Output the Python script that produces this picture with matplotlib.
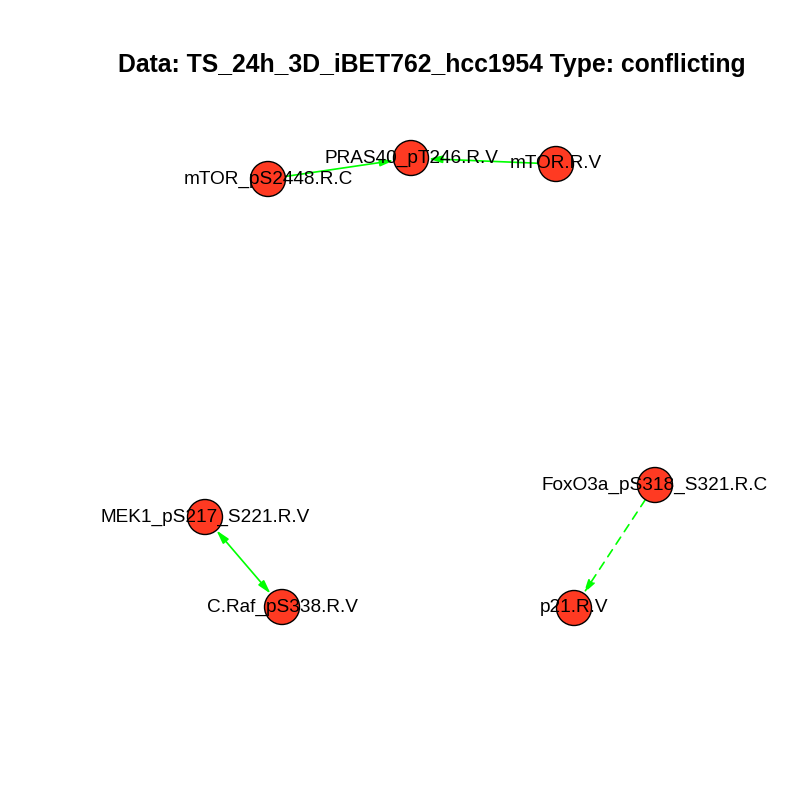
import matplotlib
matplotlib.use('Agg')
import matplotlib.pyplot as plt
from matplotlib.patches import Circle, FancyArrowPatch

# node layout (pixel coords)
nodes = ['mTOR_pS2448.R.C', 'PRAS40_pT246.R.V', 'mTOR.R.V',
         'MEK1_pS217_S221.R.V', 'C.Raf_pS338.R.V',
         'FoxO3a_pS318_S321.R.C', 'p21.R.V']
node_x = [268, 411, 556, 205, 282, 655, 574]
node_y = [179, 158, 164, 517, 607, 485, 608]

# edges: source, target, style, both directions
edge_src = ['mTOR_pS2448.R.C', 'mTOR.R.V', 'MEK1_pS217_S221.R.V', 'FoxO3a_pS318_S321.R.C']
edge_dst = ['PRAS40_pT246.R.V', 'PRAS40_pT246.R.V', 'C.Raf_pS338.R.V', 'p21.R.V']
edge_ls = ['solid', 'solid', 'solid', 'dashed']
edge_both = [False, False, True, False]

title = 'Data: TS_24h_3D_iBET762_hcc1954 Type: conflicting'

R = 17.5
plt.rcParams['font.family'] = ['Liberation Sans', 'DejaVu Sans']

fig = plt.figure(figsize=(8, 8), dpi=100)
ax = fig.add_axes([0, 0, 1, 1])
ax.set_xlim(0, 800)
ax.set_ylim(800, 0)
ax.set_aspect('equal')
ax.axis('off')

pos = {n: (x, y) for n, x, y in zip(nodes, node_x, node_y)}
shrink = R * 0.72

for s, d, ls, both in zip(edge_src, edge_dst, edge_ls, edge_both):
    style = '<|-|>' if both else '-|>'
    arr = FancyArrowPatch(pos[s], pos[d], arrowstyle=style + ',head_length=8,head_width=2.2',
                          color='#00FF00', lw=1.2, linestyle=(0, (5, 4)) if ls == 'dashed' else ls,
                          shrinkA=shrink, shrinkB=shrink, mutation_scale=1, zorder=1)
    ax.add_patch(arr)

for n in nodes:
    ax.add_patch(Circle(pos[n], R, facecolor='#FF3A22', edgecolor='black', lw=1, zorder=2))
    ax.text(pos[n][0], pos[n][1], n, ha='center', va='center', fontsize=13.7, zorder=3)

fig.text(0.54, 1 - 65 / 800, title, ha='center', va='center', fontsize=17.8, fontweight='bold')

fig.savefig('out.png', dpi=100, facecolor='white')
